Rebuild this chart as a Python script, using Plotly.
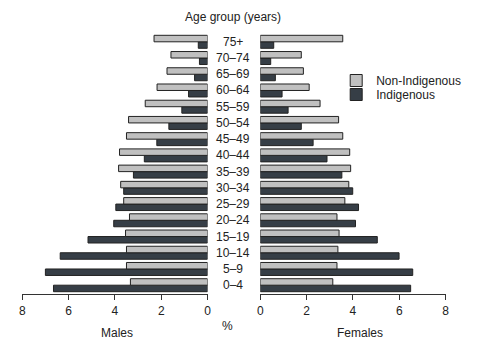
import plotly.graph_objects as go

ages = ["0–4", "5–9", "10–14", "15–19", "20–24", "25–29", "30–34", "35–39",
        "40–44", "45–49", "50–54", "55–59", "60–64", "65–69", "70–74", "75+"]

male_non_ind = [3.33, 3.50, 3.50, 3.54, 3.37, 3.62, 3.75, 3.84,
                3.80, 3.50, 3.41, 2.69, 2.18, 1.75, 1.58, 2.31]
male_ind = [6.65, 7.00, 6.36, 5.16, 4.05, 3.96, 3.62, 3.20,
            2.73, 2.19, 1.67, 1.11, 0.82, 0.56, 0.35, 0.40]
female_non_ind = [3.13, 3.31, 3.35, 3.40, 3.31, 3.65, 3.82, 3.90,
                  3.86, 3.56, 3.38, 2.58, 2.11, 1.86, 1.77, 3.56]
female_ind = [6.49, 6.58, 5.99, 5.05, 4.11, 4.24, 3.99, 3.52,
              2.88, 2.28, 1.77, 1.20, 0.94, 0.65, 0.45, 0.58]

tick_vals = [0, 2, 4, 6, 8]

LIGHT = "#c0c0c0"
DARK = "#363e46"
EDGE = "#222222"
FONT = "Liberation Sans"

W, H = 493, 354
fig = go.Figure()

# Indigenous first so it sits below in each group
fig.add_trace(go.Bar(y=ages, x=male_ind, orientation="h", name="Indigenous",
                     marker=dict(color=DARK, line=dict(color=EDGE, width=1)),
                     xaxis="x", yaxis="y", legend="legend2", showlegend=True))
fig.add_trace(go.Bar(y=ages, x=male_non_ind, orientation="h", name="Non-Indigenous",
                     marker=dict(color=LIGHT, line=dict(color=EDGE, width=1)),
                     xaxis="x", yaxis="y", legend="legend", showlegend=True))
fig.add_trace(go.Bar(y=ages, x=female_ind, orientation="h", name="Indigenous",
                     marker=dict(color=DARK, line=dict(color=EDGE, width=1)),
                     xaxis="x2", yaxis="y2", showlegend=False))
fig.add_trace(go.Bar(y=ages, x=female_non_ind, orientation="h", name="Non-Indigenous",
                     marker=dict(color=LIGHT, line=dict(color=EDGE, width=1)),
                     xaxis="x2", yaxis="y2", showlegend=False))

y_bottom = (H - 294.2) / H
y_top = (H - 32.8) / H

axis_common = dict(
    showgrid=False, zeroline=False, showline=True, linecolor="#333333", linewidth=1,
    ticks="outside", ticklen=5, tickcolor="#333333", tickvals=tick_vals,
    tickfont=dict(family=FONT, size=12, color="#222222"), fixedrange=True,
)

legend_common = dict(xanchor="left", yanchor="top", itemwidth=30,
                     font=dict(family=FONT, size=12, color="#222222"),
                     bgcolor="rgba(0,0,0,0)")

fig.update_layout(
    width=W, height=H,
    margin=dict(l=0, r=0, t=0, b=0),
    paper_bgcolor="white", plot_bgcolor="white",
    barmode="group", bargap=0.2, bargroupgap=0,
    font=dict(family=FONT, size=12, color="#222222"),
    xaxis=dict(domain=[19.5 / W, 207.5 / W], range=[8, 0], anchor="y", **axis_common),
    xaxis2=dict(domain=[261 / W, 449 / W], range=[0, 8], anchor="y2", **axis_common),
    yaxis=dict(domain=[y_bottom, y_top], showticklabels=False, showgrid=False,
               zeroline=False, showline=False, ticks="", anchor="x",
               categoryorder="array", categoryarray=ages),
    yaxis2=dict(domain=[y_bottom, y_top], showticklabels=False, showgrid=False,
                zeroline=False, showline=False, ticks="", anchor="x2",
                categoryorder="array", categoryarray=ages, matches="y"),
    legend=dict(x=338 / W, y=1 - 66 / H, **legend_common),
    legend2=dict(x=338 / W, y=1 - 80 / H, **legend_common),
)

annotations = []
for a in ages:
    annotations.append(dict(x=233 / W, xref="paper", y=a, yref="y", text=a,
                            showarrow=False, xanchor="center", yanchor="middle",
                            font=dict(family=FONT, size=12, color="#222222")))
annotations.append(dict(x=233 / W, xref="paper", y=1 - 17 / H, yref="paper",
                        text="Age group (years)", showarrow=False,
                        xanchor="center", yanchor="middle",
                        font=dict(family=FONT, size=12, color="#222222")))
annotations.append(dict(x=116 / W, xref="paper", y=1 - 333 / H, yref="paper",
                        text="Males", showarrow=False, xanchor="center", yanchor="middle"))
annotations.append(dict(x=362 / W, xref="paper", y=1 - 333 / H, yref="paper",
                        text="Females", showarrow=False, xanchor="center", yanchor="middle"))
annotations.append(dict(x=228 / W, xref="paper", y=1 - 326 / H, yref="paper",
                        text="%", showarrow=False, xanchor="center", yanchor="middle"))
fig.update_layout(annotations=annotations)

fig.write_html("out.html")
